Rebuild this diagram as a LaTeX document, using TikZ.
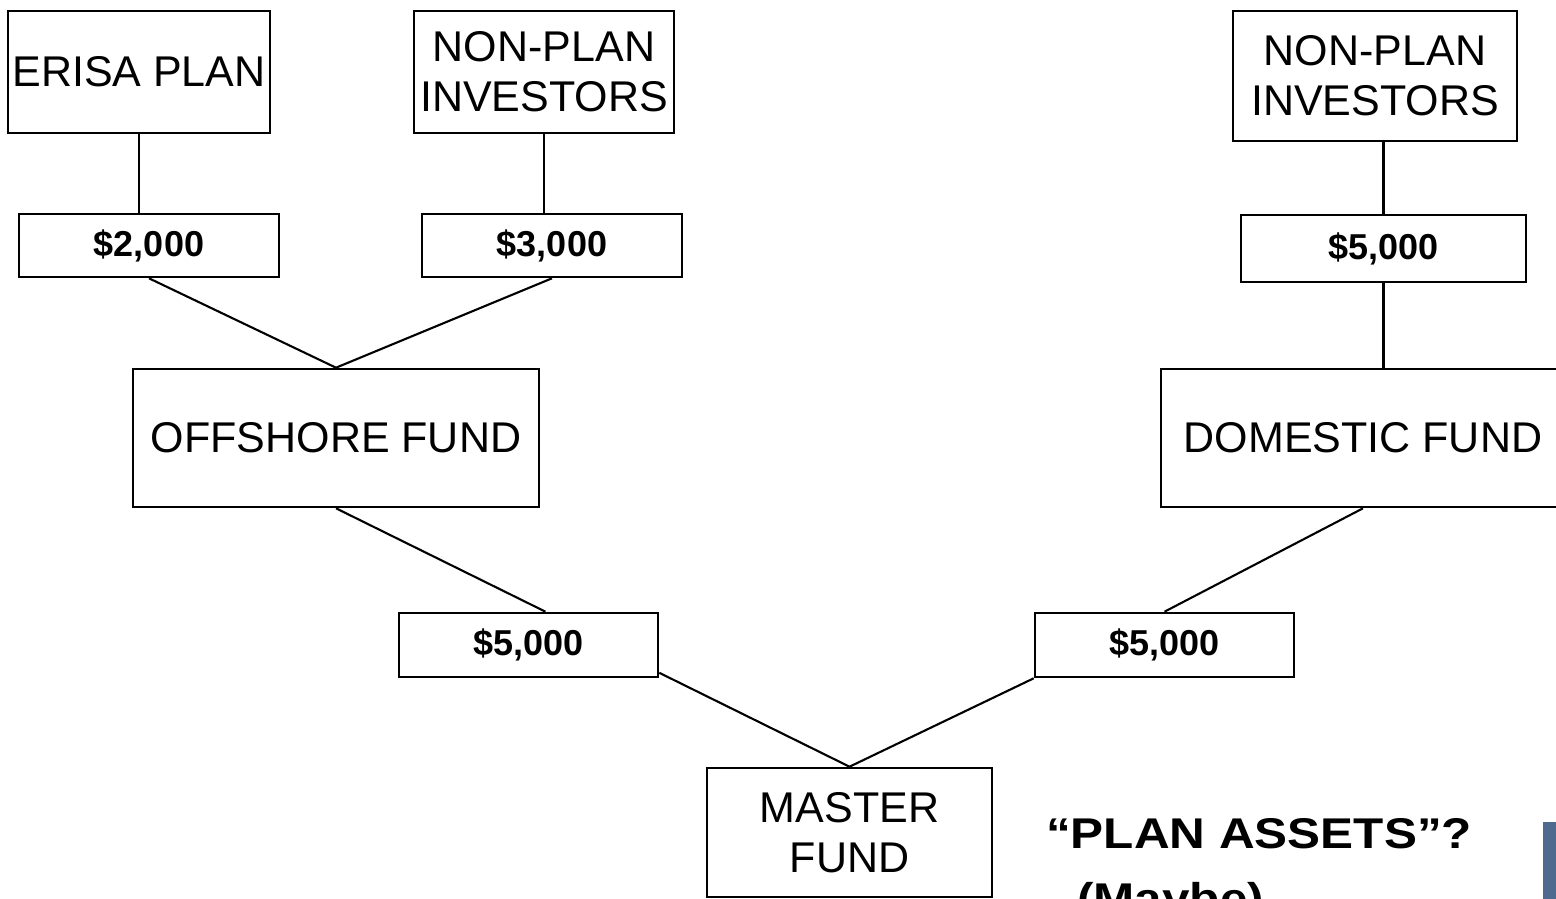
\documentclass[tikz,border=0pt]{standalone}
\usepackage{fontspec}
\setmainfont{Liberation Sans}
\newfontfamily\widefont[FakeStretch=1.15,Ligatures=TeX]{Liberation Sans}
\usetikzlibrary{positioning}
\definecolor{barblue}{HTML}{4F6A8F}
\tikzset{entity/.style={rectangle,draw=black,line width=2.6pt,fill=white,inner sep=0pt,
align=center, font=\fontsize{43}{50}\selectfont},
amount/.style={entity,minimum width=260pt,minimum height=63pt,
font=\bfseries\fontsize{36}{36}\selectfont},
link/.style={color=black, line width=2.1pt},
note/.style={inner sep=0pt, anchor=base west, font=\widefont\bfseries\fontsize{43}{43}\selectfont}}

\begin{document}
\begin{tikzpicture}[x=1pt,y=-1pt]
  \clip (0,0) rectangle (1556,899);
  % investors
  \node (erisa) [entity,minimum width=262pt,minimum height=122pt] at (139,72) {ERISA PLAN};
  \node (nonplanL) [entity,minimum width=260pt,minimum height=122pt] at (544,72) {NON-PLAN\\INVESTORS};
  \node (nonplanR) [entity,minimum width=284pt,minimum height=130pt] at (1375,76) {NON-PLAN\\INVESTORS};
  \node (amt2) [amount] at (149,245.5) {\$2,000};
  \node (amt3) [amount] at (552,245.5) {\$3,000};
  \node (amtR) [amount,minimum width=285pt,minimum height=67pt] at (1383.5,248.5) {\$5,000};
  % feeder funds
  \node (offshore) [entity,minimum width=406pt,minimum height=138pt] at (336,438) {OFFSHORE FUND};
  \node (domestic) [entity,minimum width=404pt,minimum height=138pt] at (1363,438) {DOMESTIC FUND};
  \node (amtL) [amount,minimum width=259pt,minimum height=64pt] at (528.5,645) {\$5,000};
  \node (amtD) [amount,minimum width=259pt,minimum height=64pt] at (1164.5,645) {\$5,000};
  % master
  \node (master) [entity,minimum width=285pt,minimum height=129pt] at (849.5,832.5) {MASTER\\FUND};

  \draw [link] (erisa.south) -- (erisa.south |- amt2.north);
  \draw [link] (nonplanL.south) -- (nonplanL.south |- amt3.north);
  \draw [link] (amtR.north) -- (amtR.north |- nonplanR.south);
  \draw [link] (amtR.south) -- (amtR.south |- domestic.north);
  \draw [link] (amt2.south) -- (offshore.north) -- (amt3.south);
  \draw [link] (offshore.south) -- (amtL.63);
  \draw [link] (domestic.south) -- (amtD.north);
  \draw [link] (amtL.-12) -- (master.north) -- (amtD.south west);

  \node (question) [note] at (1046,848) {“PLAN ASSETS”?};
  \node (maybe) [note] at (1077,913) {(Maybe)};
  \fill [barblue] (1543,822) rectangle (1556,899);
\end{tikzpicture}
\end{document}
